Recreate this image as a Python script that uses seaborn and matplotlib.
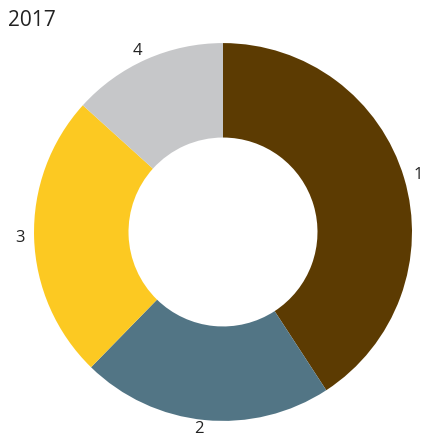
import matplotlib
matplotlib.use('Agg')
import matplotlib.pyplot as plt
import seaborn as sns

labels = ['1', '2', '3', '4']
values = [40.8, 21.5, 24.4, 13.3]
colors = ['#5c3b02', '#527585', '#fcc922', '#c6c7c9']
title = '2017'

sns.set_theme(style='white')
plt.rcParams['font.family'] = ['Open Sans', 'DejaVu Sans']

fig = plt.figure(figsize=(4.22, 4.40), dpi=100)
ax = fig.add_axes([0, 0, 1, 1])

ax.pie(values, labels=labels, colors=colors, startangle=90, counterclock=False,
       labeldistance=1.05, wedgeprops=dict(width=0.5, linewidth=0),
       textprops=dict(fontsize=12, color='#222222'))

ax.set_xlim(-1.180, 1.053)
ax.set_ylim(-1.101, 1.228)
ax.set_aspect('auto')
ax.axis('off')

fig.text(8 / 422, 1 - 20 / 440, title, fontsize=15, color='#222222',
         ha='left', va='center')

fig.savefig('out.png', dpi=100)
plt.close()
